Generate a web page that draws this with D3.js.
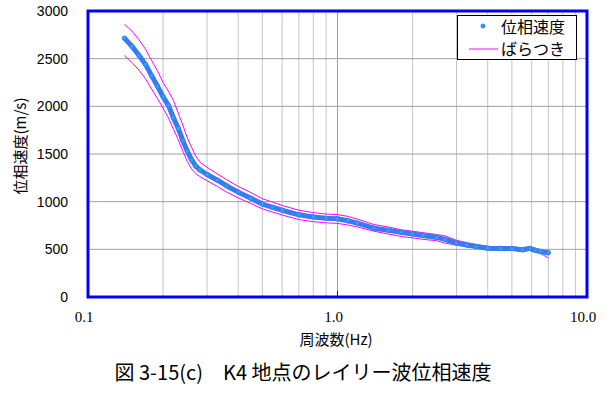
<!DOCTYPE html>
<html>
<head>
<meta charset="utf-8">
<script src="https://cdn.jsdelivr.net/npm/d3@7"></script>
<style>
  body { margin: 0; background: #fff; }
  svg { display: block; }
</style>
</head>
<body>
<div id="chart"></div>
<script>
// --- data ---
const freq  = [0.14, 0.15, 0.16, 0.17, 0.18, 0.19, 0.20, 0.21, 0.22, 0.23, 0.24, 0.25, 0.26, 0.27, 0.28, 0.30,
               0.33, 0.36, 0.40, 0.45, 0.50, 0.55, 0.60, 0.70, 0.80, 0.90, 1.0, 1.1, 1.2, 1.4, 1.6, 1.8,
               2.0, 2.2, 2.5, 2.7, 3.0, 3.3, 3.6, 4.0, 4.5, 5.0, 5.5, 5.9, 6.2, 6.5, 7.0];
const vel   = [2715, 2630, 2535, 2440, 2320, 2210, 2100, 2010, 1880, 1770, 1640, 1530, 1440, 1375, 1335, 1285,
               1225, 1165, 1100, 1035, 975, 940, 910, 862, 840, 826, 820, 800, 775, 722, 700, 678,
               660, 645, 625, 605, 565, 545, 530, 512, 510, 510, 495, 510, 490, 478, 465];
const upper = [2860, 2790, 2700, 2600, 2480, 2370, 2250, 2160, 2060, 1930, 1800, 1670, 1570, 1480, 1420, 1360,
               1290, 1230, 1160, 1095, 1030, 995, 960, 910, 885, 870, 865, 845, 818, 760, 735, 705,
               690, 675, 655, 640, 595, 570, 550, 530, 525, 525, 515, 525, 510, 495, 480];
const lower = [2535, 2460, 2380, 2290, 2180, 2080, 1980, 1880, 1760, 1650, 1530, 1420, 1345, 1295, 1265, 1220,
               1160, 1100, 1040, 980, 925, 890, 860, 812, 790, 778, 772, 755, 735, 690, 660, 635,
               620, 605, 590, 565, 545, 530, 515, 495, 492, 490, 478, 490, 470, 458, 410];

const yTicks = [0, 500, 1000, 1500, 2000, 2500, 3000];
const xTicks = [0.1, 1, 10];
const xTickLabels = ["0.1", "1.0", "10.0"];
const xMinor = [0.2, 0.3, 0.4, 0.5, 0.6, 0.7, 0.8, 0.9, 2, 3, 4, 5, 6, 7, 8, 9];

const W = 616, H = 396;
const svg = d3.select("#chart").append("svg").attr("width", W).attr("height", H);

const x = d3.scaleLog().domain([0.1, 10]).range([88, 587]);
const y = d3.scaleLinear().domain([0, 3000]).range([297, 11]);

// grid
svg.append("g").selectAll("line").data(xMinor).join("line")
    .attr("x1", d => x(d)).attr("x2", d => x(d)).attr("y1", y(3000)).attr("y2", y(0))
    .attr("stroke", "#c4c4c4").attr("stroke-width", 1);
svg.append("line").attr("x1", x(1)).attr("x2", x(1)).attr("y1", y(3000)).attr("y2", y(0))
    .attr("stroke", "#a0a0a0");
svg.append("g").selectAll("line").data(yTicks.slice(1, -1)).join("line")
    .attr("x1", x(0.1)).attr("x2", x(10)).attr("y1", d => y(d)).attr("y2", d => y(d))
    .attr("stroke", "#a0a0a0").attr("stroke-width", 1);

// spread lines
const pts = freq.map((f, i) => ({ f, v: vel[i], u: upper[i], l: lower[i] }));
const line = key => d3.line().x(d => x(d.f)).y(d => y(d[key]));
svg.append("path").datum(pts).attr("d", line("u")).attr("fill", "none").attr("stroke", "#ff00ff").attr("stroke-width", 1);
svg.append("path").datum(pts).attr("d", line("l")).attr("fill", "none").attr("stroke", "#ff00ff").attr("stroke-width", 1);

// phase velocity (dense markers)
svg.append("path").datum(pts).attr("d", line("v")).attr("fill", "none")
    .attr("stroke", "#3a7af0").attr("stroke-width", 5).attr("stroke-linejoin", "round");
svg.append("g").selectAll("circle").data(pts).join("circle")
    .attr("cx", d => x(d.f)).attr("cy", d => y(d.v)).attr("r", 2.2)
    .attr("fill", "#25a6f8").attr("stroke", "#3a7af0").attr("stroke-width", 1);

// plot frame
svg.append("rect").attr("x", x(0.1)).attr("y", y(3000)).attr("width", x(10) - x(0.1)).attr("height", y(0) - y(3000))
    .attr("fill", "none").attr("stroke", "#0000ff").attr("stroke-width", 3);
svg.append("line").attr("x1", x(1)).attr("x2", x(1)).attr("y1", y(0)).attr("y2", y(0) - 6)
    .attr("stroke", "#0000ff").attr("stroke-width", 1);

// y tick labels
svg.append("g").selectAll("text").data(yTicks).join("text")
    .attr("x", 68).attr("y", d => y(d) + 5).attr("text-anchor", "end")
    .attr("font-family", "Liberation Sans, Arial, sans-serif").attr("font-size", 14).attr("fill", "#000")
    .text(d => d);

// x tick labels
svg.append("g").selectAll("text").data(xTicks).join("text")
    .attr("x", d => x(d) - 4).attr("y", 322).attr("text-anchor", "middle")
    .attr("font-family", "Liberation Serif, Times New Roman, serif").attr("font-size", 15).attr("fill", "#000")
    .text((d, i) => xTickLabels[i]);

// axis titles
svg.append("text").attr("x", 336).attr("y", 345).attr("text-anchor", "middle")
    .attr("font-family", "Noto Sans CJK JP, sans-serif").attr("font-size", 15).text("周波数(Hz)");
svg.append("text").attr("transform", "translate(26,146) rotate(-90)").attr("text-anchor", "middle")
    .attr("font-family", "Noto Sans CJK JP, sans-serif").attr("font-size", 15).text("位相速度(m/s)");

// caption
svg.append("text").attr("x", 303).attr("y", 380).attr("text-anchor", "middle")
    .attr("font-family", "Noto Sans CJK JP, serif").attr("font-size", 20).text("図 3-15(c)　K4 地点のレイリー波位相速度");

// legend
const lg = svg.append("g");
lg.append("rect").attr("x", 457.5).attr("y", 15.5).attr("width", 119).attr("height", 44)
    .attr("fill", "#fff").attr("stroke", "#000").attr("stroke-width", 1);
lg.append("circle").attr("cx", 483).attr("cy", 26).attr("r", 2).attr("fill", "#25a6f8").attr("stroke", "#3a7af0");
lg.append("text").attr("x", 501).attr("y", 33).attr("font-family", "Noto Sans CJK JP, sans-serif")
    .attr("font-size", 16).text("位相速度");
lg.append("line").attr("x1", 469).attr("x2", 498).attr("y1", 49).attr("y2", 49).attr("stroke", "#ff00ff");
lg.append("text").attr("x", 501).attr("y", 55).attr("font-family", "Noto Sans CJK JP, sans-serif")
    .attr("font-size", 16).text("ばらつき");
</script>
</body>
</html>
